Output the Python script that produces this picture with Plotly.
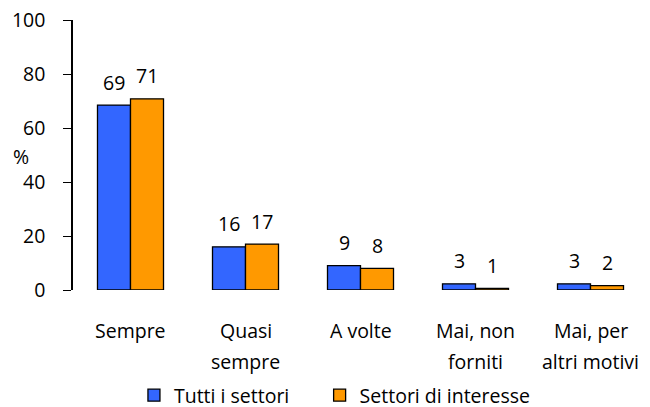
import plotly.graph_objects as go

categories = ["Sempre", "Quasi sempre", "A volte", "Mai, non forniti", "Mai, per altri motivi"]
cat_line1 = ["Sempre", "Quasi", "A volte", "Mai, non", "Mai, per"]
cat_line2 = ["", "sempre", "", "forniti", "altri motivi"]
series_names = ["Tutti i settori", "Settori di interesse"]
tutti = [68.5, 16, 9, 2.3, 2.3]
interesse = [70.8, 17, 8, 0.6, 1.6]
tutti_labels = ["69", "16", "9", "3", "3"]
interesse_labels = ["71", "17", "8", "1", "2"]
y_ticks = [0, 20, 40, 60, 80, 100]

FONT = "Open Sans, sans-serif"
FS = 19.5
PAD = "\u00a0" * 5

fig = go.Figure()
fig.add_trace(go.Bar(
    name=series_names[0] + PAD, x=categories, y=tutti,
    marker=dict(color="#3366FF", line=dict(color="black", width=1.3)),
))
fig.add_trace(go.Bar(
    name=series_names[1], x=categories, y=interesse,
    marker=dict(color="#FF9900", line=dict(color="black", width=1.3)),
))

annotations = []
for c, v, t in zip(categories, tutti, tutti_labels):
    annotations.append(dict(x=c, y=v, text=t, xref="x", yref="y", showarrow=False,
                            xshift=-16.5, yshift=23, yanchor="middle",
                            font=dict(size=FS, family=FONT)))
for c, v, t in zip(categories, interesse, interesse_labels):
    annotations.append(dict(x=c, y=v, text=t, xref="x", yref="y", showarrow=False,
                            xshift=16.5, yshift=23, yanchor="middle",
                            font=dict(size=FS, family=FONT)))
for c, l1, l2 in zip(categories, cat_line1, cat_line2):
    annotations.append(dict(x=c, y=0, text=l1, xref="x", yref="y", showarrow=False,
                            yshift=-40, yanchor="middle", font=dict(size=FS, family=FONT)))
    if l2:
        annotations.append(dict(x=c, y=0, text=l2, xref="x", yref="y", showarrow=False,
                                yshift=-71, yanchor="middle", font=dict(size=FS, family=FONT)))
annotations.append(dict(text="%", xref="paper", yref="y", x=-0.108, y=49.5,
                        showarrow=False, yanchor="middle", font=dict(size=FS, family=FONT)))

fig.update_layout(
    width=650, height=407,
    margin=dict(l=65, r=10, t=12, b=125, autoexpand=False),
    paper_bgcolor="white", plot_bgcolor="white",
    barmode="group", bargap=0.426, bargroupgap=0,
    font=dict(family=FONT, size=FS, color="black"),
    showlegend=True,
    legend=dict(orientation="h", x=0.106, xanchor="left", yref="container", y=-0.008,
                yanchor="bottom", font=dict(size=FS), itemwidth=30, traceorder="normal"),
    xaxis=dict(showline=False, showticklabels=False, ticks="", showgrid=False),
    yaxis=dict(range=[0, 100], tickvals=y_ticks, showline=True, linecolor="black",
               linewidth=1.5, ticks="outside", ticklen=8, tickcolor="black",
               ticklabelstandoff=14, ticklabeloverflow="allow", showgrid=False,
               zeroline=False, tickfont=dict(size=FS)),
    annotations=annotations,
)

fig.write_html("out.html")
